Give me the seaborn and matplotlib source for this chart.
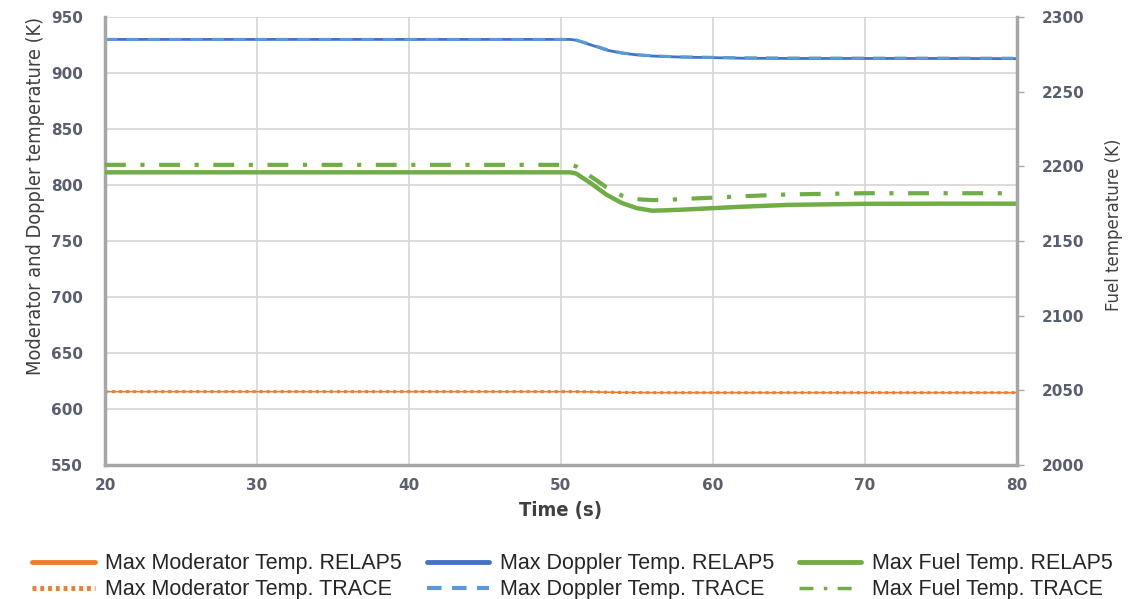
import matplotlib
matplotlib.use("Agg")
import matplotlib.pyplot as plt
import seaborn as sns
from matplotlib.lines import Line2D

# Time axis (s)
time = [20, 30, 40, 50, 50.6, 51, 52, 53, 54, 55, 56, 57, 58, 60, 62, 65, 70, 75, 80]

# Moderator temperature (K), left axis
mod_relap5 = [615.5, 615.5, 615.5, 615.5, 615.5, 615.5, 615.3, 615.0, 614.8, 614.7, 614.6, 614.6,
              614.6, 614.6, 614.6, 614.6, 614.6, 614.6, 614.6]
mod_trace = [615.5, 615.5, 615.5, 615.5, 615.5, 615.5, 615.3, 615.0, 614.8, 614.7, 614.6, 614.6,
             614.6, 614.6, 614.6, 614.6, 614.6, 614.6, 614.6]

# Doppler temperature (K), left axis
dop_relap5 = [930, 930, 930, 930, 930, 929.3, 925.0, 920.5, 917.8, 916.2, 915.2, 914.6,
              914.2, 913.7, 913.2, 913.0, 913.0, 913.0, 912.8]
dop_trace = [930, 930, 930, 930, 930, 929.5, 925.5, 921.0, 918.0, 916.4, 915.4, 914.8,
             914.4, 914.0, 913.6, 913.4, 913.3, 913.3, 913.2]

# Fuel temperature (K), right axis
fuel_relap5 = [2196, 2196, 2196, 2196, 2196, 2195.2, 2188.5, 2181.0, 2175.5, 2172.0, 2170.3,
               2170.6, 2171.0, 2172.0, 2173.0, 2174.2, 2174.9, 2175.0, 2175.0]
fuel_trace = [2201, 2201, 2201, 2201, 2201, 2200.0, 2193.0, 2186.0, 2180.5, 2178.0, 2177.4,
              2177.5, 2178.2, 2179.0, 2180.0, 2181.2, 2182.0, 2182.0, 2182.0]

x_ticks = [20, 30, 40, 50, 60, 70, 80]
left_ticks = [550, 600, 650, 700, 750, 800, 850, 900, 950]
right_ticks = [2000, 2050, 2100, 2150, 2200, 2250, 2300]

labels = ["Max Moderator Temp. RELAP5", "Max Moderator Temp. TRACE",
          "Max Doppler Temp. RELAP5", "Max Doppler Temp. TRACE",
          "Max Fuel Temp. RELAP5", "Max Fuel Temp. TRACE"]

ORANGE = "#ED7D31"
BLUE_DARK = "#4472C4"
BLUE = "#5B9BD5"
GREEN = "#70AD47"
GRID = "#D9D9D9"
SPINE = "#A6A6A6"
TICK_TXT = "#5A5F6E"
LABEL_TXT = "#404040"

sns.set_theme(style="white")
plt.rcParams["font.family"] = ["DejaVu Sans"]

fig = plt.figure(figsize=(11.45, 5.99), dpi=100)
ax = fig.add_axes([0.0917, 0.2237, 0.7963, 0.7479])
ax2 = ax.twinx()

# Left-axis series
sns.lineplot(x=time, y=mod_relap5, ax=ax, color=ORANGE, linewidth=1.2)
sns.lineplot(x=time, y=mod_trace, ax=ax, color=ORANGE, linewidth=2.2)
ax.lines[-1].set_dashes((1.0, 1.3))
ax.lines[-1].set_dash_capstyle("butt")
sns.lineplot(x=time, y=dop_relap5, ax=ax, color=BLUE_DARK, linewidth=2.0)
sns.lineplot(x=time, y=dop_trace, ax=ax, color=BLUE, linewidth=2.2)
ax.lines[-1].set_dashes((4, 3))

# Right-axis series
sns.lineplot(x=time, y=fuel_relap5, ax=ax2, color=GREEN, linewidth=3.2)
sns.lineplot(x=time, y=fuel_trace, ax=ax2, color=GREEN, linewidth=3.0)
ax2.lines[-1].set_dashes((5, 3.5, 1, 3.5))
ax2.lines[-1].set_dash_capstyle("butt")

ax.set_xlim(20, 80)
ax.set_ylim(550, 950)
ax2.set_ylim(2000, 2300)
ax.set_xticks(x_ticks)
ax.set_yticks(left_ticks)
ax2.set_yticks(right_ticks)

ax.grid(True, color=GRID, linewidth=1.3)
ax2.grid(False)
ax.set_axisbelow(True)
for a in (ax, ax2):
    for s in a.spines.values():
        s.set_visible(False)
for side in ("left", "bottom"):
    ax.spines[side].set_visible(True)
    ax.spines[side].set_color(SPINE)
    ax.spines[side].set_linewidth(2.5)
ax2.spines["right"].set_visible(True)
ax2.spines["right"].set_color(SPINE)
ax2.spines["right"].set_linewidth(2.5)

tick_font = {"family": "DejaVu Sans", "weight": "bold", "size": 11}
ax.tick_params(axis="y", length=0, labelcolor=TICK_TXT, pad=16)
ax.tick_params(axis="x", length=0, labelcolor=TICK_TXT, pad=9)
ax2.tick_params(axis="y", length=5, width=1, color=SPINE, direction="out",
                labelcolor=TICK_TXT, pad=13, right=True)
for lbl in ax.get_xticklabels() + ax.get_yticklabels() + ax2.get_yticklabels():
    lbl.set_fontproperties(tick_font)

cond = {"family": "DejaVu Sans", "stretch": "condensed"}
ax.set_ylabel("Moderator and Doppler temperature (K)", fontdict=cond, fontsize=14.3,
              color=LABEL_TXT)
ax.yaxis.set_label_coords(-0.066, 0.60)
ax2.set_ylabel("Fuel temperature (K)", fontdict=cond, fontsize=13.2, color=LABEL_TXT)
ax2.yaxis.set_label_coords(1.0965, 0.536)
ax.set_xlabel("Time (s)", fontdict=cond, fontsize=14.5, fontweight="bold", color=LABEL_TXT)
ax.xaxis.set_label_coords(0.5, -0.080)

handles = [
    Line2D([], [], color=ORANGE, linewidth=3.5),
    Line2D([], [], color=ORANGE, linewidth=3.5, dashes=(0.8, 0.8), dash_capstyle="butt"),
    Line2D([], [], color=BLUE_DARK, linewidth=3.5),
    Line2D([], [], color=BLUE, linewidth=3, dashes=(3.5, 2.5)),
    Line2D([], [], color=GREEN, linewidth=3.5),
    Line2D([], [], color=GREEN, linewidth=2.5, dashes=(4, 3, 1, 3), dash_capstyle="butt"),
]
leg = fig.legend(handles, labels, ncol=3, loc="upper center", bbox_to_anchor=(0.5, 0.094),
                 frameon=False, prop={"family": "Liberation Sans", "size": 15.5},
                 borderpad=0, handlelength=2.9, handletextpad=0.5, columnspacing=1.15,
                 labelspacing=0.22, labelcolor="#262626")

fig.savefig("out.png", dpi=100)
